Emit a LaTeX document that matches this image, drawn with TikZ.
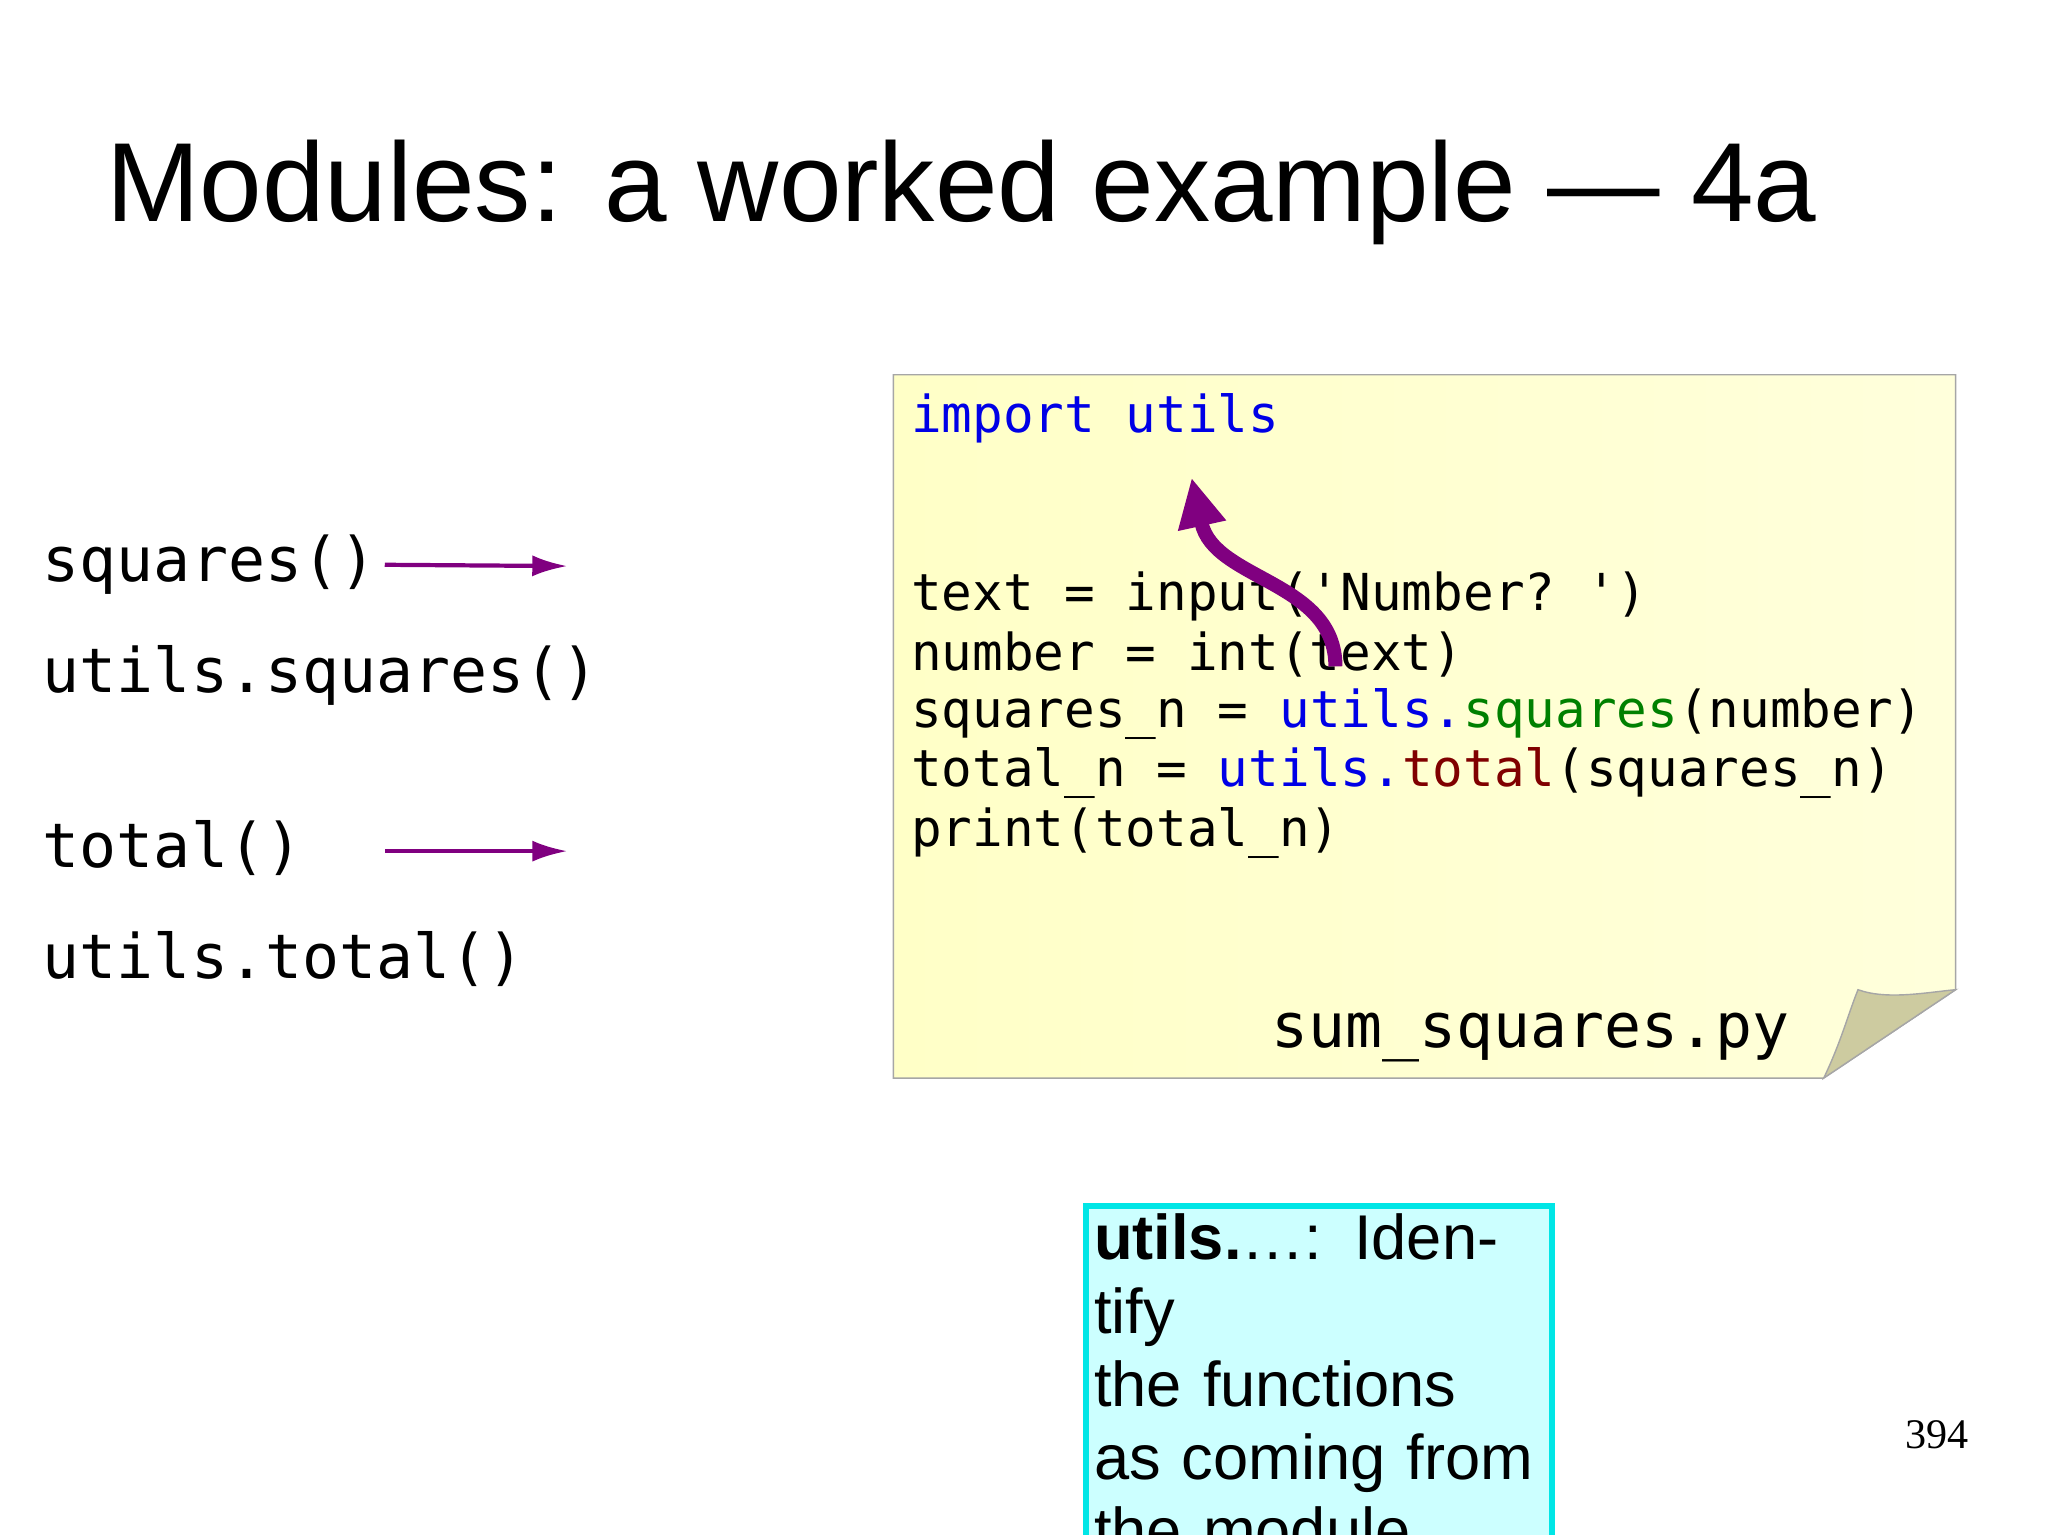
\documentclass[tikz,border=0pt]{standalone}
\usepackage{fontspec}
\setmainfont{Liberation Sans}
\setmonofont{DejaVu Sans Mono}
\newfontfamily\pgnum{Liberation Serif}
\usetikzlibrary{arrows.meta}
\definecolor{kw}{RGB}{0,0,230}
\definecolor{fn}{RGB}{0,128,0}
\definecolor{fr}{RGB}{128,0,0}
\definecolor{purp}{RGB}{128,0,128}
\begin{document}
\begin{tikzpicture}[x=0.013196cm,y=-0.013196cm,
  code/.style={anchor=west,inner sep=0,font=\fontsize{14.5}{16}\ttfamily},
  left/.style={anchor=west,inner sep=0,font=\fontsize{17.5}{20}\ttfamily},
  thinarr/.style={purp,line width=1.2pt,-{Latex[length=10pt,width=6pt]}}]
\useasboundingbox (0,0) rectangle (1552,1163);
\node[anchor=west,inner sep=0,font=\fontsize{32}{38}\selectfont] (title) at (80,146) {Modules: a worked example — 4a};
% note
\shade[left color=yellow!22,right color=yellow!14,draw=gray!70] (677,284) -- (1482,284) -- (1482,750) -- (1382,817) -- (677,817) -- cycle;
\fill[fill={rgb,255:red,205;green,203;blue,160},draw=gray!70] (1382,817) .. controls (1395,790) and (1400,770) .. (1408,750) .. controls (1430,758) and (1460,752) .. (1482,750) -- cycle;
\node[code] (l0) at (690,317) {\color{kw}import utils};
\node[code] (l1) at (690,452) {text = input('Number? ')};
\node[code] (l2) at (690,496) {number = int(text)};
\node[code] (l3) at (690,541) {squares\_n = {\color{kw}utils.}{\color{fn}squares}(number)};
\node[code] (l4) at (690,586) {total\_n = {\color{kw}utils.}{\color{fr}total}(squares\_n)};
\node[code] (l5) at (690,631) {print(total\_n)};
\node[anchor=west,inner sep=0,font=\fontsize{17.5}{20}\ttfamily] (fname) at (963,786) {sum\_squares.py};
\coordinate (cs) at (1012,505);
\coordinate (ce) at (903,362);
\draw[purp,line width=4pt,-{Triangle[length=14pt,width=13pt]}] (cs) .. controls (1012,440) and (920,440) .. (ce);
% left
\node[left] (sq) at (32,428) {squares()};
\node[left] (usq) at (32,512) {utils.squares()};
\node[left] (tot) at (32,643) {total()};
\node[left] (utot) at (32,727) {utils.total()};
\coordinate (a1) at (430,429);
\coordinate (a2s) at (292,645);
\coordinate (a2) at (430,645);
\draw[thinarr] (sq.east) ++(6,0) -- (a1);
\draw[thinarr] (a2s) -- (a2);
% info box
\node[draw={rgb,255:red,0;green,230;blue,230},line width=1.5pt,fill={rgb,255:red,204;green,255;blue,255},anchor=north west,text width=4.5cm,align=left,font=\fontsize{18}{20.8}\selectfont,inner xsep=0.08cm,inner ysep=0.08cm] (info) at (821,912) {\textbf{utils.}…: Identify\\the functions\\as coming from\\the module.};
\node[font=\pgnum\fontsize{12}{14}\selectfont] (pg) at (1468,1087) {394};
\end{tikzpicture}
\end{document}
